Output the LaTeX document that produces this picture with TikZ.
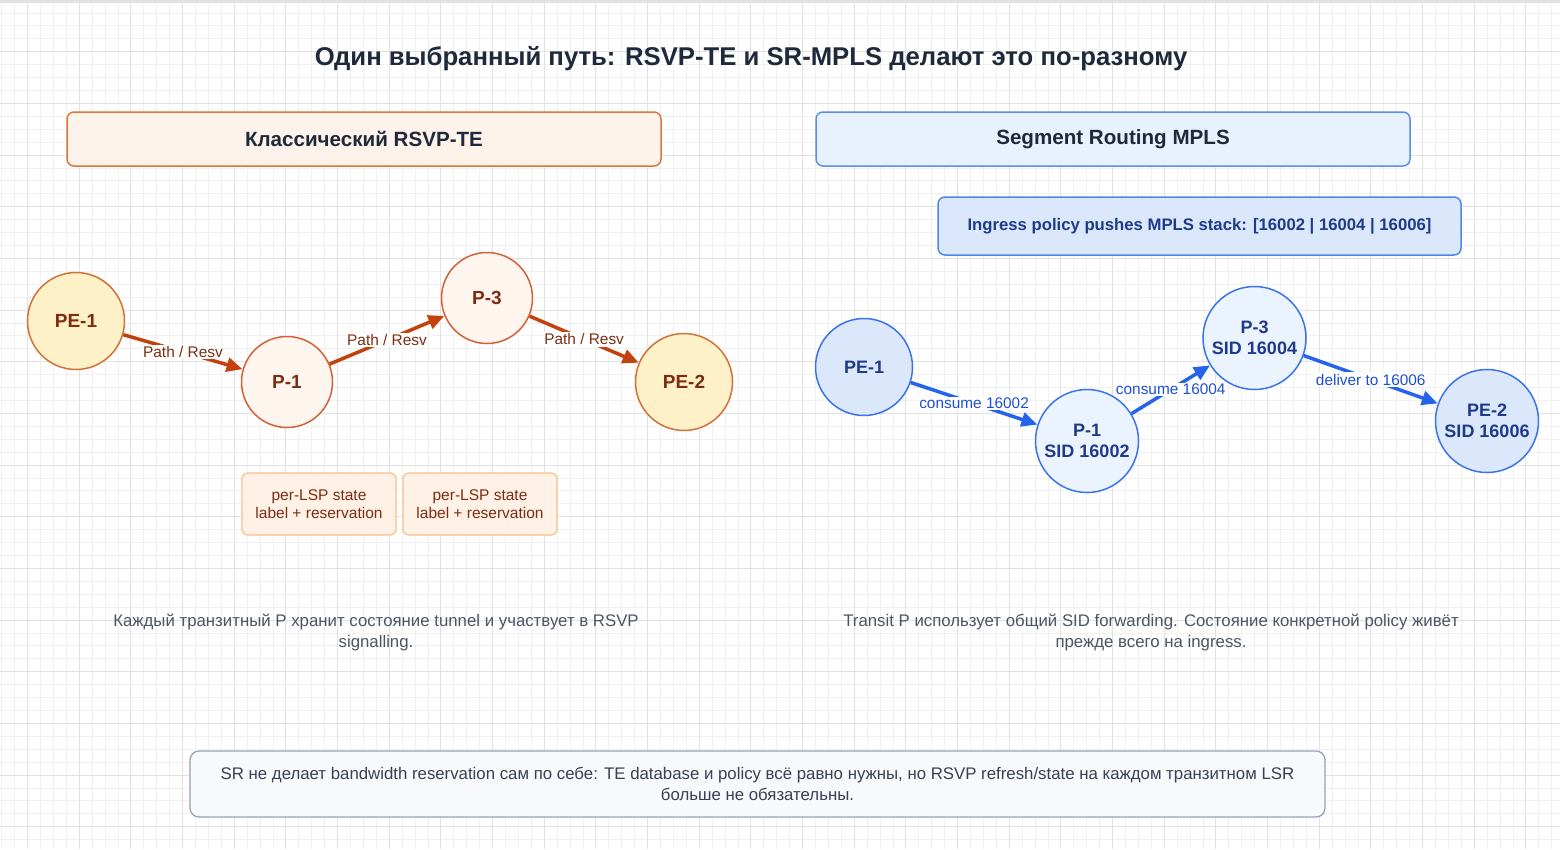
\documentclass[tikz,border=0pt]{standalone}
\usepackage{fontspec}
\setmainfont{Liberation Sans}
\usetikzlibrary{arrows.meta}
\definecolor{gridmin}{HTML}{F1F1F1}
\definecolor{gridmaj}{HTML}{E2E2E2}
\definecolor{titlec}{HTML}{1E293B}
\definecolor{ohfill}{HTML}{FEF3EA}
\definecolor{ohdraw}{HTML}{D9773F}
\definecolor{bhfill}{HTML}{E8F1FE}
\definecolor{bhdraw}{HTML}{5B8DEF}
\definecolor{ingfill}{HTML}{DBE8FC}
\definecolor{ingdraw}{HTML}{4F86EC}
\definecolor{navy}{HTML}{1E3A8A}
\definecolor{pefill}{HTML}{FEF0C7}
\definecolor{pedraw}{HTML}{D0733A}
\definecolor{pfill}{HTML}{FEF5EE}
\definecolor{pdraw}{HTML}{D2603A}
\definecolor{brown}{HTML}{7C2D12}
\definecolor{oarr}{HTML}{C2410C}
\definecolor{stfill}{HTML}{FFF1E5}
\definecolor{stdraw}{HTML}{F9C18C}
\definecolor{bpefill}{HTML}{DBE8FC}
\definecolor{bpfill}{HTML}{EBF3FF}
\definecolor{bdraw}{HTML}{3B73E8}
\definecolor{barr}{HTML}{2563EB}
\definecolor{blabel}{HTML}{1D4ED8}
\definecolor{desc}{HTML}{4B5563}
\definecolor{botfill}{HTML}{F7F9FC}
\definecolor{botdraw}{HTML}{94A3B8}
\definecolor{bottext}{HTML}{374151}
\tikzset{
  headbox/.style={rounded corners=7pt, line width=1.5pt, minimum width=594pt, minimum height=54pt, inner sep=0pt,
    font=\fontsize{20.6}{24}\selectfont\bfseries, text=titlec},
  ocirc/.style={circle, line width=1.5pt, inner sep=0pt, text=brown, font=\fontsize{19}{22}\selectfont\bfseries},
  bcirc/.style={circle, line width=1.5pt, draw=bdraw, inner sep=0pt, text=navy, align=center,
    font=\fontsize{18}{21.5}\selectfont\bfseries},
  oarrow/.style={draw=oarr, line width=3.5pt, -{Triangle[length=16pt,width=14pt]}},
  barrow/.style={draw=barr, line width=3.5pt, -{Triangle[length=16pt,width=14pt]}},
  olabel/.style={fill=white, inner sep=1.5pt, text=brown, font=\fontsize{15.4}{17}\selectfont},
  blab/.style={fill=white, inner sep=1.5pt, text=blabel, font=\fontsize{15.4}{17}\selectfont},
  statebox/.style={rounded corners=6pt, fill=stfill, draw=stdraw, line width=1.3pt, minimum width=154pt,
    minimum height=62pt, inner sep=0pt, align=center, text=brown, font=\fontsize{15.5}{18}\selectfont},
  desctext/.style={align=center, text=desc, font=\fontsize{16.8}{21}\selectfont},
}
\begin{document}
\begin{tikzpicture}[x=1pt,y=-1pt]
\useasboundingbox (0,0) rectangle (1560,849);
\fill[white] (0,0) rectangle (1560,849);
% grid
\foreach \i in {0,...,120} {\draw[gridmin, line width=0.8pt] ({1.67+\i*12.9167},0) -- ++(0,849);}
\foreach \i in {0,...,66} {\draw[gridmin, line width=0.8pt] (0,{\i*12.9167}) -- ++(1560,0);}
\foreach \i in {0,...,29} {\draw[gridmaj, line width=0.8pt] ({27.5+\i*51.667},0) -- ++(0,849);}
\foreach \i in {0,...,16} {\draw[gridmaj, line width=0.8pt] (0,{\i*51.667}) -- ++(1560,0);}
\fill[gridmaj] (0,0) rectangle (1560,2.5);

% title
\node[text=titlec, font=\fontsize{25.7}{30}\selectfont\bfseries] (title) at (751,59) {Один выбранный путь: RSVP-TE и SR-MPLS делают это по-разному};

% headers
\node[headbox, fill=ohfill, draw=ohdraw] (lhead) at (364,139) {Классический RSVP-TE};
\node[headbox, fill=bhfill, draw=bhdraw] (rhead) at (1113,139) {Segment Routing MPLS};

\node[rounded corners=7pt, fill=ingfill, draw=ingdraw, line width=1.5pt, minimum width=523pt, minimum height=58pt,
  inner sep=0pt, text=navy, font=\fontsize{16.7}{20}\selectfont\bfseries] (ingress) at (1199.5,226)
  {Ingress policy pushes MPLS stack: [16002 | 16004 | 16006]};

% left nodes
\node[ocirc, fill=pefill, draw=pedraw, minimum size=97pt] (lpe1) at (76,321) {PE-1};
\node[ocirc, fill=pfill, draw=pdraw, minimum size=91pt] (lp1) at (287,382) {P-1};
\node[ocirc, fill=pfill, draw=pdraw, minimum size=91pt] (lp3) at (487,298) {P-3};
\node[ocirc, fill=pefill, draw=pedraw, minimum size=97pt] (lpe2) at (684,382) {PE-2};

\draw[oarrow] (lpe1) -- node[olabel] {Path / Resv} (lp1);
\draw[oarrow] (lp1) -- node[olabel] {Path / Resv} (lp3);
\draw[oarrow] (lp3) -- node[olabel] {Path / Resv} (lpe2);

\node[statebox] (st1) at (319,504) {per-LSP state\\label + reservation};
\node[statebox] (st2) at (480,504) {per-LSP state\\label + reservation};

% right nodes
\node[bcirc, fill=bpefill, minimum size=97pt] (rpe1) at (864,367) {PE-1};
\node[bcirc, fill=bpfill, minimum size=103pt] (rp1) at (1087,441) {P-1\\SID 16002};
\node[bcirc, fill=bpfill, minimum size=103pt] (rp3) at (1254.5,338) {P-3\\SID 16004};
\node[bcirc, fill=bpefill, minimum size=103pt] (rpe2) at (1487,421) {PE-2\\SID 16006};

\draw[barrow] (rpe1) -- node[blab] {consume 16002} (rp1);
\draw[barrow] (rp1) -- node[blab] {consume 16004} (rp3);
\draw[barrow] (rp3) -- node[blab] {deliver to 16006} (rpe2);

% descriptions
\node[desctext] (ldesc) at (376,632) {Каждый транзитный P хранит состояние tunnel и участвует в RSVP\\signalling.};
\node[desctext] (rdesc) at (1151,632) {Transit P использует общий SID forwarding. Состояние конкретной policy живёт\\прежде всего на ingress.};

% bottom
\node[rounded corners=9pt, fill=botfill, draw=botdraw, line width=1.3pt, minimum width=1135pt, minimum height=66pt,
  inner sep=0pt, align=center, text=bottext, font=\fontsize{16.8}{21}\selectfont] (bottom) at (757.5,784)
  {SR не делает bandwidth reservation сам по себе: TE database и policy всё равно нужны, но RSVP refresh/state на каждом транзитном LSR\\больше не обязательны.};
\end{tikzpicture}
\end{document}
